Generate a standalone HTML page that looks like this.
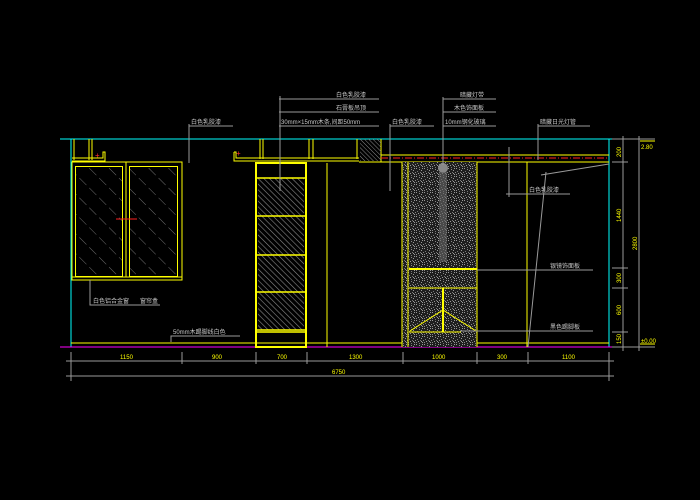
<!DOCTYPE html>
<html><head><meta charset="utf-8"><style>
html,body{margin:0;padding:0;background:#000;width:700px;height:500px;overflow:hidden}
svg{display:block}
text{font-family:"Liberation Sans","Noto Sans CJK SC",sans-serif;font-size:6px;fill:#c8c8c8}
.y{fill:#ffff00}
</style></head><body>
<svg width="700" height="500" viewBox="0 0 700 500" xmlns="http://www.w3.org/2000/svg">
<defs>
<pattern id="h1" width="4" height="4" patternUnits="userSpaceOnUse" patternTransform="rotate(-45)">
<line x1="0" y1="0" x2="0" y2="4" stroke="#8a8a8a" stroke-width="1.2"/>
</pattern>
<pattern id="h2" width="3" height="3" patternUnits="userSpaceOnUse" patternTransform="rotate(-45)">
<line x1="0" y1="0" x2="0" y2="3" stroke="#8a8a8a" stroke-width="1"/>
</pattern>
<pattern id="wg" width="14" height="14" patternUnits="userSpaceOnUse" patternTransform="rotate(-45)">
<line x1="0" y1="0" x2="0" y2="10" stroke="#8a8a8a" stroke-width="0.8"/>
</pattern>
<pattern id="sp" width="8" height="8" patternUnits="userSpaceOnUse">
<rect width="8" height="8" fill="#1e1e1e"/>
<rect x="0" y="0" width="1" height="1" fill="#999"/><rect x="3" y="1" width="1" height="1" fill="#888"/>
<rect x="6" y="0" width="1" height="1" fill="#999"/><rect x="1" y="3" width="1" height="1" fill="#777"/>
<rect x="5" y="2" width="1" height="1" fill="#999"/><rect x="7" y="4" width="1" height="1" fill="#888"/>
<rect x="2" y="5" width="1" height="1" fill="#999"/><rect x="4" y="4" width="1" height="1" fill="#777"/>
<rect x="0" y="6" width="1" height="1" fill="#888"/><rect x="6" y="6" width="1" height="1" fill="#999"/>
<rect x="3" y="7" width="1" height="1" fill="#777"/><rect x="5" y="5" width="1" height="1" fill="#999"/>
</pattern>
</defs>

<g stroke="#00ffff" stroke-width="1" fill="none">
<line x1="60" y1="139" x2="612" y2="139"/>
<line x1="71" y1="139" x2="71" y2="347"/>
<line x1="609" y1="139" x2="609" y2="347"/>
</g>
<line x1="60" y1="347" x2="625" y2="347" stroke="#ff00ff" stroke-width="1"/>
<line x1="71" y1="343" x2="609" y2="343" stroke="#ffff00" stroke-width="1"/>

<rect x="76" y="167" width="46" height="109" fill="url(#wg)"/>
<rect x="130" y="167" width="47" height="109" fill="url(#wg)"/>

<g stroke="#ffff00" stroke-width="1" fill="none">
<line x1="74" y1="139" x2="74" y2="160"/><line x1="89" y1="139" x2="89" y2="160"/><line x1="92" y1="139" x2="92" y2="160"/>
<polyline points="72,158 103,158 103,152 105,152 105,161 72,161"/>
<rect x="72" y="162" width="110" height="118"/>
<line x1="72" y1="277" x2="182" y2="277"/>
<rect x="75.5" y="166.5" width="47" height="110"/>
<rect x="129.5" y="166.5" width="48" height="110"/>
<line x1="126" y1="162" x2="126" y2="277"/>
<polyline points="234,152 236,152 236,158 359,158"/>
<polyline points="234,152 234,161 359,161"/>
<line x1="260" y1="139" x2="260" y2="159"/><line x1="263" y1="139" x2="263" y2="159"/>
<line x1="309" y1="139" x2="309" y2="159"/><line x1="313" y1="139" x2="313" y2="159"/>
<line x1="357" y1="139" x2="357" y2="159"/>
<line x1="327" y1="163" x2="327" y2="347"/>
<line x1="381" y1="155" x2="609" y2="155"/>
<line x1="359" y1="162" x2="609" y2="162"/>
<line x1="381" y1="139" x2="381" y2="162"/>
<line x1="527" y1="162" x2="527" y2="347"/>
</g>
<rect x="360" y="139" width="21" height="22" fill="url(#h2)"/>
<line x1="381" y1="158" x2="609" y2="158" stroke="#ff2020" stroke-width="1" stroke-dasharray="7,2,1,2"/>

<rect x="256" y="163" width="50" height="184" fill="none" stroke="#ffff00" stroke-width="2"/>
<rect x="258" y="178" width="46" height="152" fill="url(#h1)"/>
<g stroke="#ffff00" stroke-width="1.5">
<line x1="256" y1="178" x2="306" y2="178"/><line x1="256" y1="216" x2="306" y2="216"/>
<line x1="256" y1="255" x2="306" y2="255"/><line x1="256" y1="292" x2="306" y2="292"/>
<line x1="256" y1="330" x2="306" y2="330"/><line x1="256" y1="332" x2="306" y2="332"/>
</g>

<rect x="402" y="162" width="75" height="185" fill="url(#sp)"/>
<ellipse cx="443" cy="168" rx="5" ry="5" fill="#888"/>
<rect x="439" y="172" width="8" height="90" fill="#666" opacity="0.6"/>
<g stroke="#ffff00" stroke-width="1" fill="none">
<line x1="402" y1="162" x2="402" y2="347"/><line x1="408" y1="162" x2="408" y2="347"/>
<line x1="477" y1="162" x2="477" y2="347"/>
<line x1="409" y1="288" x2="477" y2="288"/>
<line x1="409" y1="332" x2="461" y2="332"/>
<polyline points="410,331 443,310 476,331"/>
</g>
<line x1="409" y1="269" x2="477" y2="269" stroke="#ffff00" stroke-width="2"/>
<line x1="443" y1="288" x2="443" y2="332" stroke="#ffff00" stroke-width="2"/>

<line x1="116" y1="219" x2="137" y2="219" stroke="#ff2020" stroke-width="1"/>
<text x="95" y="158" style="fill:#ff3030;font-size:8px">+</text>
<text x="236" y="156" style="fill:#ff3030;font-size:8px">+</text>

<g stroke="#9a9a9a" stroke-width="1" fill="none">
<line x1="189" y1="126" x2="233" y2="126"/><line x1="189" y1="124" x2="189" y2="163"/>
<line x1="280" y1="96" x2="280" y2="191"/>
<line x1="279" y1="99" x2="379" y2="99"/><line x1="279" y1="112" x2="379" y2="112"/><line x1="279" y1="126" x2="379" y2="126"/>
<line x1="390" y1="126" x2="434" y2="126"/><line x1="390" y1="124" x2="390" y2="191"/>
<line x1="443" y1="97" x2="443" y2="165"/>
<line x1="443" y1="99" x2="496" y2="99"/><line x1="443" y1="112" x2="496" y2="112"/><line x1="443" y1="126" x2="496" y2="126"/>
<line x1="538" y1="126" x2="590" y2="126"/><line x1="538" y1="124" x2="538" y2="160"/>
<line x1="509" y1="147" x2="509" y2="197"/><line x1="506" y1="194" x2="570" y2="194"/>
<polyline points="541,175 609,164"/><line x1="546" y1="172" x2="528" y2="347"/>
<line x1="477" y1="270" x2="593" y2="270"/>
<line x1="460" y1="331" x2="593" y2="331"/>
<polyline points="90,280 90,305 160,305"/>
<polyline points="171,342 171,336 240,336"/>
<line x1="66" y1="361" x2="614" y2="361"/>
<line x1="66" y1="376" x2="614" y2="376"/>
<line x1="71" y1="352" x2="71" y2="381"/><line x1="182" y1="352" x2="182" y2="364"/>
<line x1="256" y1="352" x2="256" y2="364"/><line x1="307" y1="352" x2="307" y2="364"/>
<line x1="403" y1="352" x2="403" y2="364"/><line x1="477" y1="352" x2="477" y2="364"/>
<line x1="528" y1="352" x2="528" y2="364"/><line x1="609" y1="352" x2="609" y2="381"/>
<line x1="623" y1="136" x2="623" y2="351"/>
<line x1="639" y1="136" x2="639" y2="351"/>
<line x1="612" y1="139" x2="655" y2="139"/>
<line x1="612" y1="162" x2="628" y2="162"/><line x1="612" y1="268" x2="628" y2="268"/>
<line x1="612" y1="288" x2="628" y2="288"/><line x1="612" y1="332" x2="628" y2="332"/>
<line x1="612" y1="347" x2="655" y2="347"/>
</g>
<g stroke="#ffff00" stroke-width="1">
<line x1="640" y1="141" x2="655" y2="141"/><line x1="640" y1="344" x2="655" y2="344"/>
</g>

<text x="191" y="124">白色乳胶漆</text>
<text x="336" y="97">白色乳胶漆</text>
<text x="336" y="110">石膏板吊顶</text>
<text x="281" y="124">30mm×15mm木条,间距50mm</text>
<text x="392" y="124">白色乳胶漆</text>
<text x="460" y="97">暗藏灯带</text>
<text x="454" y="110">木色饰面板</text>
<text x="445" y="124">10mm钢化玻璃</text>
<text x="540" y="124">暗藏日光灯管</text>
<text x="529" y="192">白色乳胶漆</text>
<text x="550" y="268">银镜饰面板</text>
<text x="550" y="329">黑色踢脚板</text>
<text x="93" y="303">白色铝合金窗</text>
<text x="140" y="303">窗帘盒</text>
<text x="173" y="334">50mm木踢脚线白色</text>
<text class="y" x="120" y="359">1150</text>
<text class="y" x="212" y="359">900</text>
<text class="y" x="277" y="359">700</text>
<text class="y" x="349" y="359">1300</text>
<text class="y" x="432" y="359">1000</text>
<text class="y" x="497" y="359">300</text>
<text class="y" x="562" y="359">1100</text>
<text class="y" x="332" y="374">6750</text>
<text class="y" transform="translate(621,157) rotate(-90)">200</text>
<text class="y" transform="translate(621,222) rotate(-90)">1440</text>
<text class="y" transform="translate(621,283) rotate(-90)">300</text>
<text class="y" transform="translate(621,315) rotate(-90)">600</text>
<text class="y" transform="translate(621,344) rotate(-90)">150</text>
<text class="y" transform="translate(637,250) rotate(-90)">2800</text>
<text class="y" x="641" y="149">2.80</text>
<text class="y" x="641" y="343">±0.00</text>
</svg>
</body></html>
